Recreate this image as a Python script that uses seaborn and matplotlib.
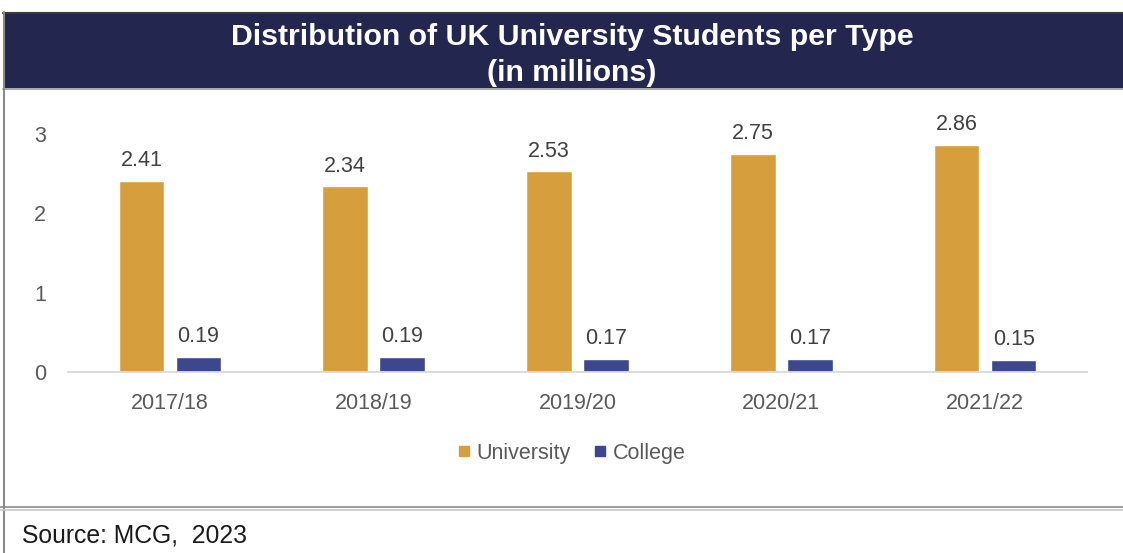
import matplotlib
matplotlib.use("Agg")
import matplotlib.pyplot as plt
from matplotlib.lines import Line2D
from matplotlib.patches import Rectangle
import pandas as pd
import seaborn as sns

# Academic years and student counts (millions)
years = ["2017/18", "2018/19", "2019/20", "2020/21", "2021/22"]
university = [2.41, 2.34, 2.53, 2.75, 2.86]
college = [0.19, 0.19, 0.17, 0.17, 0.15]
series_names = ["University", "College"]
y_ticks = [0, 1, 2, 3]

colors = {"University": "#D69E3D", "College": "#3D478E"}
navy = "#232750"
grey_text = "#595959"

df = pd.DataFrame({
    "Year": years * 2,
    "Type": [series_names[0]] * len(years) + [series_names[1]] * len(years),
    "Students": university + college,
})

sns.set_theme(style="white")
plt.rcParams["font.family"] = ["Liberation Sans", "DejaVu Sans"]

W, H = 1123, 553
fig = plt.figure(figsize=(W / 100, H / 100), dpi=100)
fig.patch.set_facecolor("white")

def fx(px):
    return px / W

def fy(py):
    return (H - py) / H

# Plot area
y0, unit = 372, 79.3
ymax = 3.3
ax = fig.add_axes([fx(68), fy(y0), fx(1087) - fx(68), ymax * unit / H])
sns.barplot(data=df, x="Year", y="Students", hue="Type", palette=colors,
            width=0.56, gap=0.2, ax=ax, legend=False, saturation=1)
ax.set_xlim(-0.5, len(years) - 0.5)
ax.set_ylim(0, ymax)
ax.set_yticks(y_ticks)
ax.set_xlabel("")
ax.set_ylabel("")
for s in ["top", "right", "left"]:
    ax.spines[s].set_visible(False)
ax.spines["bottom"].set_color("#D9D9D9")
ax.spines["bottom"].set_linewidth(1.3)
ax.tick_params(axis="both", length=0, colors=grey_text, labelsize=15.5)
ax.tick_params(axis="x", pad=15)
ax.tick_params(axis="y", pad=16)
ax.set_facecolor("none")

for cont in ax.containers:
    ax.bar_label(cont, fmt="%.2f", padding=7, fontsize=15.5, color="#404040")

# Legend
handles = [Line2D([], [], marker="s", linestyle="", markersize=7.2,
                  color=colors[n]) for n in series_names]
fig.legend(handles, series_names, loc="center", bbox_to_anchor=(fx(571), fy(453)),
           ncol=2, frameon=False, fontsize=15.5, handletextpad=0.25,
           columnspacing=1.0, labelcolor=grey_text, handlelength=0.7)

# Title banner
fig.patches.append(Rectangle((fx(3), fy(88)), 1 - fx(3), fy(13) - fy(88),
                             transform=fig.transFigure, facecolor=navy,
                             edgecolor="none", zorder=0))
fig.lines.append(Line2D([fx(3), 1], [fy(12.5), fy(12.5)], transform=fig.transFigure,
                        color="#3a3a3a", lw=1.5))
fig.lines.append(Line2D([fx(3), 1], [fy(89), fy(89)], transform=fig.transFigure,
                        color="#9a9a9a", lw=1.2))
fig.text(fx(572), fy(37), "Distribution of UK University Students per Type",
         ha="center", va="center", color="white", fontsize=21.8, fontweight="bold")
fig.text(fx(572), fy(73), "(in millions)",
         ha="center", va="center", color="white", fontsize=21.8, fontweight="bold")

# Frame lines
fig.lines.append(Line2D([fx(3.5), fx(3.5)], [fy(12), 0], transform=fig.transFigure,
                        color="#8a8a8a", lw=1.5))
fig.lines.append(Line2D([0, 1], [fy(507), fy(507)], transform=fig.transFigure,
                        color="#8a8a8a", lw=1.2))
fig.lines.append(Line2D([0, 1], [fy(510), fy(510)], transform=fig.transFigure,
                        color="#c8c8c8", lw=1.2))

fig.text(fx(22), fy(536), "Source: MCG,  2023", ha="left", va="center",
         color="#1a1a1a", fontsize=17.8)

fig.savefig("out.png", dpi=100)
